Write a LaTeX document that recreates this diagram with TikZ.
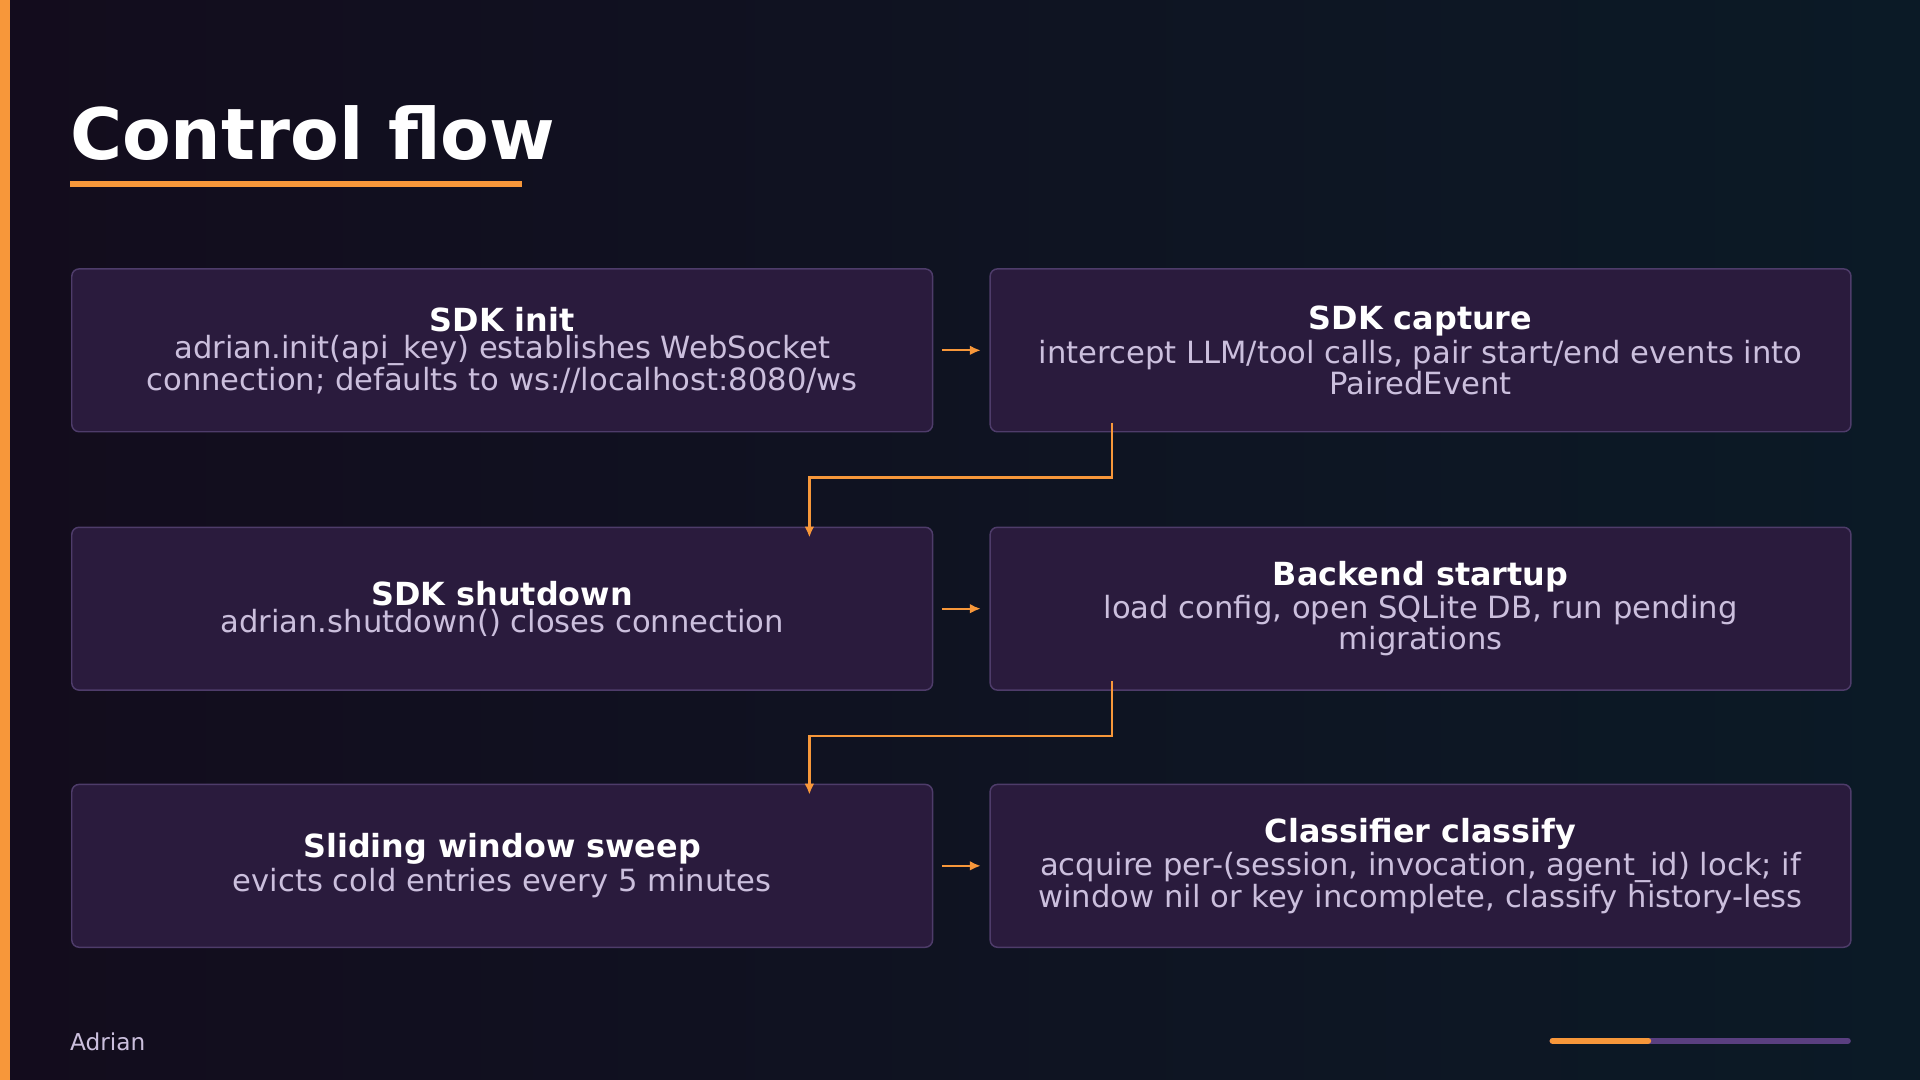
\documentclass[tikz,border=0pt]{standalone}
\usepackage{fontspec}
\setmainfont{DejaVu Sans}
\usetikzlibrary{arrows.meta}
\definecolor{bgA}{HTML}{130C1D}
\definecolor{bgB}{HTML}{0B1A26}
\definecolor{acc}{HTML}{F7973A}
\definecolor{boxfill}{HTML}{2A1B3D}
\definecolor{boxline}{HTML}{4E3C6A}
\definecolor{bodyc}{HTML}{CBBFDD}
\definecolor{pur}{HTML}{5A3F80}
\newcommand{\hdtxt}[1]{{\fontsize{26}{32}\selectfont\bfseries\color{white}#1}}
\newcommand{\bdtxt}[1]{{\fontsize{25}{33}\selectfont\color{bodyc}#1}}
\begin{document}
\begin{tikzpicture}[x=1pt,y=-1pt,
  box/.style={draw=boxline,fill=boxfill,rounded corners=6pt,line width=1.2pt,minimum width=703pt,minimum height=133pt,anchor=north west,align=center,inner sep=0pt},
  arr/.style={draw=acc,line width=1.8pt,-{Latex[length=9pt,width=8pt]}}]
\shade[left color=bgA,right color=bgB] (0,0) rectangle (1568,882);
\useasboundingbox (0,0) rectangle (1568,882);
\fill[acc] (0,0) rectangle (8,882);
\node[anchor=base west,inner sep=0pt,text=white,font=\fontsize{58}{60}\selectfont\bfseries] (title) at (57,130) {Control flow};
\fill[acc] (57,148) rectangle (426,153);
\node[box] (b1) at (58,219) {\hdtxt{SDK init}\\[2pt]\bdtxt{adrian.init(api\_key) establishes WebSocket}\\\bdtxt{connection; defaults to ws://localhost:8080/ws}};
\node[box] (b2) at (808,219) {\hdtxt{SDK capture}\\[2pt]\bdtxt{intercept LLM/tool calls, pair start/end events into}\\\bdtxt{PairedEvent}};
\node[box] (b3) at (58,430) {\hdtxt{SDK shutdown}\\[2pt]\bdtxt{adrian.shutdown() closes connection}};
\node[box] (b4) at (808,430) {\hdtxt{Backend startup}\\[2pt]\bdtxt{load config, open SQLite DB, run pending}\\\bdtxt{migrations}};
\node[box] (b5) at (58,640) {\hdtxt{Sliding window sweep}\\[2pt]\bdtxt{evicts cold entries every 5 minutes}};
\node[box] (b6) at (808,640) {\hdtxt{Classifier classify}\\[2pt]\bdtxt{acquire per-(session, invocation, agent\_id) lock; if}\\\bdtxt{window nil or key incomplete, classify history-less}};
\draw[arr] ([xshift=7pt]b1.east) -- ([xshift=-7pt]b2.west);
\draw[arr] ([xshift=7pt]b3.east) -- ([xshift=-7pt]b4.west);
\draw[arr] ([xshift=7pt]b5.east) -- ([xshift=-7pt]b6.west);
\draw[arr] ([xshift=-604pt,yshift=8pt]b2.south east) |- (661,390) -- ([xshift=603pt,yshift=-9pt]b3.north west);
\draw[arr] ([xshift=-604pt,yshift=8pt]b4.south east) |- (661,601) -- ([xshift=603pt,yshift=-9pt]b5.north west);
\node[anchor=base west,inner sep=0pt,text=bodyc,font=\fontsize{19}{22}\selectfont] (foot) at (57,858) {Adrian};
\draw[pur,line width=5pt,line cap=round] (1268,850) -- (1509,850);
\draw[acc,line width=5pt,line cap=round] (1268,850) -- (1346,850);
\end{tikzpicture}
\end{document}
